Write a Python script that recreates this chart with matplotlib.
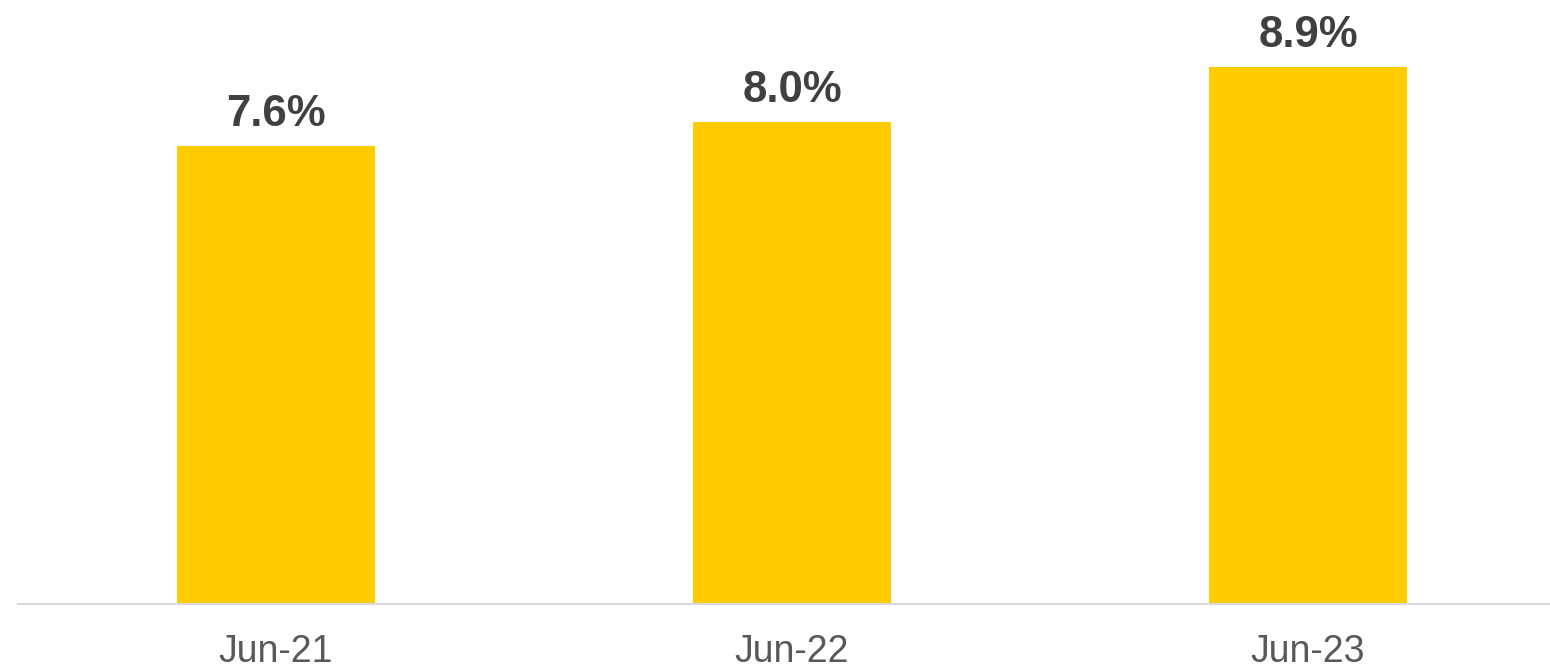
import matplotlib.pyplot as plt

# Chart data
categories = ["Jun-21", "Jun-22", "Jun-23"]
values = [7.6, 8.0, 8.9]
value_labels = ["7.6%", "8.0%", "8.9%"]

plt.rcParams['font.family'] = ['Liberation Sans', 'DejaVu Sans']

fig = plt.figure(figsize=(15.5, 6.68), dpi=100)
# axes runs past the right edge of the figure (as in the reference)
ax = fig.add_axes([18 / 1550, 64 / 668, 1548 / 1550, 603 / 668])

x = range(len(categories))
bars = ax.bar(x, values, width=0.382, color='#FFCC00', zorder=2)

# Value labels above bars
for bar, lab in zip(bars, value_labels):
    ax.annotate(lab, (bar.get_x() + bar.get_width() / 2, bar.get_height()),
                xytext=(0, 14.4), textcoords='offset points',
                ha='center', va='baseline', fontsize=31.5, fontweight='bold',
                color='#404040')

ax.set_xlim(-0.5, 2.5)
ax.set_ylim(0, 10)
ax.set_xticks(list(x))
ax.set_xticklabels(categories, fontsize=27, color='#595959')
ax.tick_params(axis='x', length=0, pad=21.5)
ax.set_yticks([])

for side in ['top', 'right', 'left']:
    ax.spines[side].set_visible(False)
ax.spines['bottom'].set_color('#D9D9D9')
ax.spines['bottom'].set_linewidth(1.5)

fig.savefig("out.png", dpi=100)
